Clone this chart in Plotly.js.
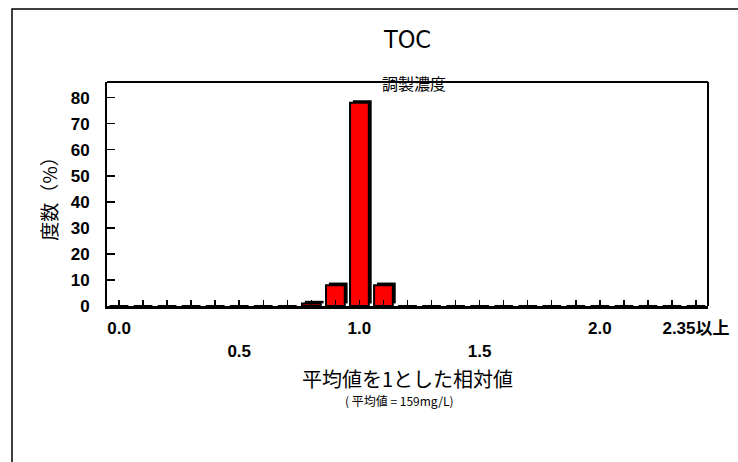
<!DOCTYPE html>
<html>
<head>
<meta charset="utf-8">
<script src="https://cdn.plot.ly/plotly-3.0.1.min.js"></script>
<style>html,body{margin:0;padding:0;background:#fff;}#chart{width:738px;height:462px;}</style>
</head>
<body>
<div id="chart"></div>
<script>
// Categories: relative value bins (mean = 1)
const categories = ["0.0","0.1","0.2","0.3","0.4","0.5","0.6","0.7","0.8","0.9","1.0","1.1","1.2",
  "1.3","1.4","1.5","1.6","1.7","1.8","1.9","2.0","2.1","2.2","2.3","2.35以上"];
// Frequency (%)
const frequency = [0,0,0,0,0,0,0,0,1,8,78,8,0,0,0,0,0,0,0,0,0,0,0,0,0];
// Tick labels shown on the x axis (second row labels start with a line break)
const tickLabels = {"0.0":"0.0","0.5":"<br>0.5","1.0":"1.0","1.5":"<br>1.5","2.0":"2.0","2.35以上":"2.35以上"};
const yTicks = [0,10,20,30,40,50,60,70,80];

const titleText = "TOC";
const subTitle = "調製濃度";
const xTitle = "平均値を1とした相対値";
const xSubTitle = "( 平均値 = 159mg/L)";
const yTitle = "度数（%）";

const numFont = {family: "Liberation Sans, Arial, Noto Sans CJK JP", size: 17, color: "#000", weight: "bold"};
const jpFont = "Noto Sans CJK JP, Liberation Sans, sans-serif";

const shadow = {
  type: "bar", x: categories, y: frequency.map(v => v > 0 ? v : null), base: 1,
  width: 0.78, offset: -0.27,
  marker: {color: "#000", line: {width: 0}},
  hoverinfo: "skip", showlegend: false
};
const bars = {
  type: "bar", x: categories, y: frequency,
  width: 0.78, offset: -0.39,
  marker: {color: "#FF0000", line: {color: "#000", width: 2}},
  showlegend: false
};

const layout = {
  width: 738, height: 462,
  margin: {l: 107, r: 30, t: 82, b: 156},
  paper_bgcolor: "#fff", plot_bgcolor: "#fff",
  barmode: "overlay",
  title: {text: titleText, x: 0.5, xref: "paper", y: 1 - 39/462, yref: "container", yanchor: "middle",
          font: {family: "DejaVu Sans Condensed, DejaVu Sans, sans-serif", size: 25, color: "#000"}},
  xaxis: {
    type: "category", range: [-0.5, 24.5], fixedrange: true,
    tickmode: "array", tickvals: categories,
    ticktext: categories.map(c => tickLabels[c] || ""),
    ticks: "inside", ticklen: 6, tickwidth: 1.5, tickcolor: "#000",
    showline: true, linecolor: "#000", linewidth: 3,
    showgrid: false, zeroline: false,
    tickfont: numFont, ticklabelstandoff: 5,
    title: {text: xTitle, font: {family: jpFont, size: 20, color: "#000"}, standoff: 14}
  },
  yaxis: {
    range: [0, 86], fixedrange: true,
    tickmode: "array", tickvals: yTicks,
    ticks: "inside", ticklen: 8, tickwidth: 1.5, tickcolor: "#000",
    showline: true, linecolor: "#000", linewidth: 2,
    showgrid: false, zeroline: false,
    tickfont: numFont, ticklabelstandoff: 12,
    title: {text: yTitle, font: {family: jpFont, size: 19, color: "#000"}, standoff: 8}
  },
  annotations: [
    {text: subTitle, xref: "paper", yref: "paper", x: 0.511, y: 0.996, yanchor: "middle", showarrow: false,
     font: {family: jpFont, size: 16, color: "#000"}},
    {text: xSubTitle, xref: "paper", yref: "paper", x: 0.486, y: (306 - 400) / 224, yanchor: "middle", showarrow: false,
     font: {family: jpFont, size: 12, color: "#000"}}
  ],
  shapes: [
    {type: "line", xref: "paper", yref: "paper", x0: 0, x1: 1, y0: 1, y1: 1, line: {color: "#000", width: 2}},
    {type: "line", xref: "paper", yref: "paper", x0: 1, x1: 1, y0: 0, y1: 1, line: {color: "#000", width: 2}},
    {type: "rect", xref: "paper", yref: "paper", x0: (12 - 107) / 601, x1: 1.2, y0: -0.8, y1: (306 - 9) / 224,
     line: {color: "#000", width: 1.5}, layer: "below"}
  ]
};

Plotly.newPlot("chart", [shadow, bars], layout, {displayModeBar: false, staticPlot: true});
</script>
</body>
</html>
